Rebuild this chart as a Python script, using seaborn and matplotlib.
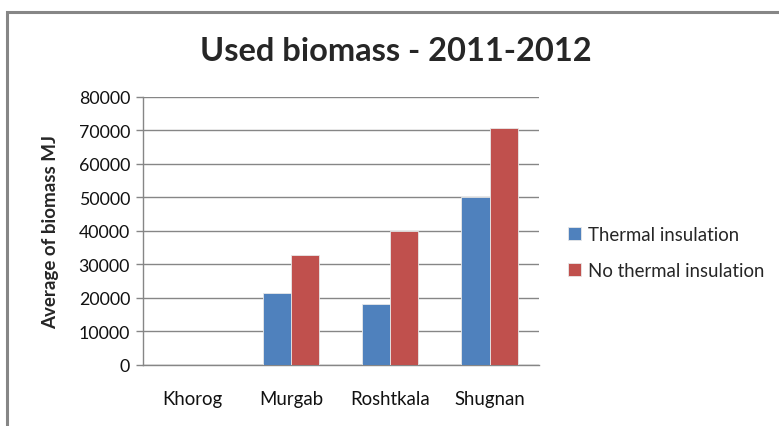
import pandas as pd
import seaborn as sns
import matplotlib
import matplotlib.pyplot as plt
from matplotlib.patches import Rectangle

matplotlib.use("Agg")

sites = ["Khorog", "Murgab", "Roshtkala", "Shugnan"]
insulated = [0, 21600, 18100, 50000]
not_insulated = [0, 32700, 40000, 70800]
series_names = ["Thermal insulation", "No thermal insulation"]
colors = ["#4F81BD", "#C0504D"]
yticks = list(range(0, 80001, 10000))

sns.set_theme(style="white")
plt.rcParams["font.family"] = ["Lato", "DejaVu Sans"]

df = pd.DataFrame({
    "site": sites * 2,
    "value": insulated + not_insulated,
    "series": [series_names[0]] * 4 + [series_names[1]] * 4,
})

fig = plt.figure(figsize=(7.79, 4.27), dpi=100)
ax = fig.add_axes([0.183, 0.143, 0.509, 0.628])

# outer chart frame (runs off the right and bottom edge like the screenshot)
fig.patches.append(Rectangle((7 / 779, -0.1), 1.1, 1 - 13 / 427 + 0.1,
                             transform=fig.transFigure, fill=False,
                             edgecolor="#868686", linewidth=2.2, zorder=0))

sns.barplot(data=df, x="site", y="value", hue="series", order=sites,
            hue_order=series_names, palette=colors, width=0.566,
            edgecolor="#e8e8e8", linewidth=0.6, saturation=1, ax=ax, zorder=3)

ax.set_ylim(0, 80000)
ax.set_xlim(-0.5, 3.5)
ax.set_yticks(yticks)
ax.set_yticklabels([str(t) for t in yticks], fontsize=12.8, color="#111111")
ax.tick_params(axis="x", labelsize=13.4, colors="#111111", length=0, pad=18)
ax.tick_params(axis="y", left=True, length=5, width=1, color="#868686", pad=4)
ax.yaxis.grid(True, color="#868686", linewidth=1)
ax.set_axisbelow(True)
for side in ["top", "right"]:
    ax.spines[side].set_visible(False)
for side in ["left", "bottom"]:
    ax.spines[side].set_color("#868686")
    ax.spines[side].set_linewidth(1)

ax.set_xlabel("")
ax.set_ylabel("Average of biomass MJ", fontsize=13.5, fontweight="bold", labelpad=14)

fig.text(0.508, 0.88, "Used biomass - 2011-2012", ha="center", va="center",
         fontsize=23.5, fontweight="bold")

ax.legend(loc="center left", bbox_to_anchor=(1.03, 0.42), frameon=False,
          fontsize=13.4, handlelength=0.7, handleheight=0.7, handletextpad=0.4,
          labelspacing=1.0)

fig.savefig("out.png", dpi=100)
